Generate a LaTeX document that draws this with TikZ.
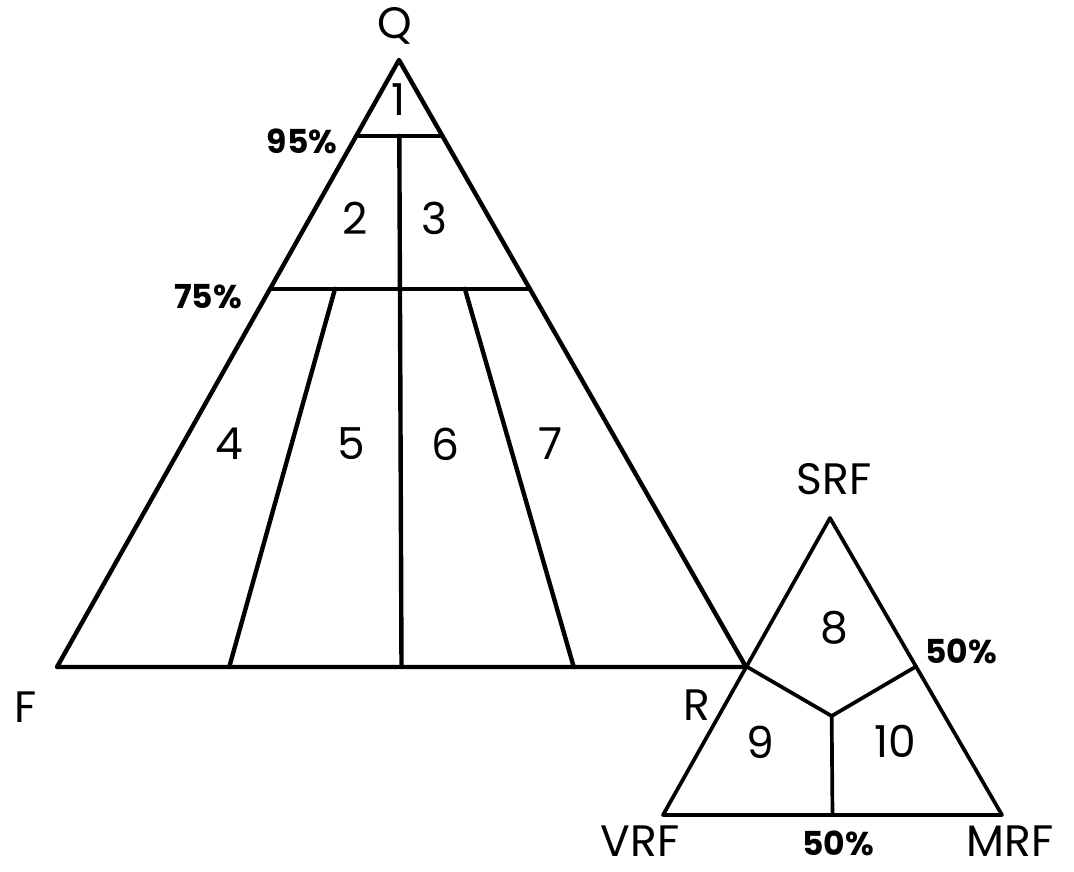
\documentclass[tikz,border=0pt]{standalone}
\usepackage{fontspec}
\setmainfont{Poppins}
\usetikzlibrary{calc}

\tikzset{
  edge/.style={line width=4.4pt, line join=round, line cap=round},
  thinedge/.style={line width=3.7pt, line join=round, line cap=round},
  lbl/.style={inner sep=0pt, font=\fontsize{44}{48}\selectfont},
  pct/.style={inner sep=0pt, font=\bfseries\fontsize{33}{36}\selectfont},
}

\begin{document}
\begin{tikzpicture}[x=1pt, y=-1pt]
  \useasboundingbox (0,0) rectangle (1074,872);

  % Q-F-R triangle
  \coordinate (Q) at (399,60);
  \coordinate (F) at (57,667);
  \coordinate (R) at (746,667);
  \coordinate (B25) at ($(F)!0.25!(R)$);
  \coordinate (B50) at ($(F)!0.5!(R)$);
  \coordinate (B75) at ($(F)!0.75!(R)$);

  % 95% and 75% Q lines
  \coordinate (L95) at ($(Q)!0.125!(F)$);
  \coordinate (R95) at ($(Q)!0.125!(R)$);
  \coordinate (M95) at ($(Q)!0.125!(B50)$);
  \coordinate (L75) at ($(Q)!0.377!(F)$);
  \coordinate (R75) at ($(Q)!0.377!(R)$);
  \coordinate (A25) at ($(Q)!0.377!(B25)$);
  \coordinate (A75) at ($(Q)!0.377!(B75)$);

  \draw[edge] (Q) -- (F) -- (R) -- cycle;
  \draw[edge] (L95) -- (R95);
  \draw[edge] (L75) -- (R75);
  \draw[edge] (M95) -- (B50);
  \draw[edge] (A25) -- (B25);
  \draw[edge] (A75) -- (B75);

  % SRF-VRF-MRF triangle
  \coordinate (S) at (830,518);
  \coordinate (V) at (663,815);
  \coordinate (M) at (1002,815);
  \coordinate (SV) at ($(S)!0.5!(V)$);
  \coordinate (SM) at ($(S)!0.5!(M)$);
  \coordinate (VM) at ($(V)!0.5!(M)$);
  \coordinate (C) at ($(S)!0.6667!(VM)$);

  \draw[thinedge] (S) -- (V) -- (M) -- cycle;
  \draw[thinedge] (SV) -- (C) -- (SM);
  \draw[thinedge] (C) -- (VM);

  % apex and corner labels
  \node[lbl] (lQ) at (395,26) {Q};
  \node[lbl] (lF) at (26,707) {F};
  \node[lbl] (lR) at (697,705) {R};
  \node[lbl] (lS) at (834,479) {SRF};
  \node[lbl] (lV) at (640,841) {VRF};
  \node[lbl] (lM) at (1010,841) {MRF};

  % field numbers
  \node[lbl] (n1) at (399,100) {1};
  \node[lbl] (n2) at (355,218) {2};
  \node[lbl] (n3) at (434,218) {3};
  \node[lbl] (n4) at (229,444) {4};
  \node[lbl] (n5) at (351,444) {5};
  \node[lbl] (n6) at (445,444) {6};
  \node[lbl] (n7) at (551,444) {7};
  \node[lbl] (n8) at (834,628) {8};
  \node[lbl] (n9) at (760,742) {9};
  \node[lbl] (n10) at (895,741) {10};

  % percentage marks
  \node[pct] (p95) at (302,141) {95\%};
  \node[pct] (p75) at (208,297) {75\%};
  \node[pct] (p50r) at (961,651) {50\%};
  \node[pct] (p50b) at (838,843) {50\%};
\end{tikzpicture}
\end{document}
